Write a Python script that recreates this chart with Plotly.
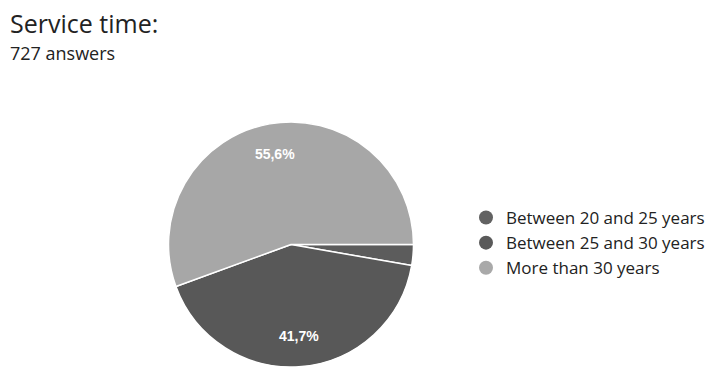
import plotly.graph_objects as go

categories = ["Between 20 and 25 years", "Between 25 and 30 years", "More than 30 years"]
counts = [20, 303, 404]
slice_labels = ["", "41,7%", "55,6%"]
colors = ["#5c5c5c", "#585858", "#a7a7a7"]
legend_colors = ["#626262", "#5a5a5a", "#a9a9a9"]
title_text = "Service time:"
subtitle_text = "727 answers"

W, H = 709, 367
cx, cy, r = 291, 245, 123
dom = dict(x=[(cx - r) / W, (cx + r) / W], y=[max(0, (H - cy - r) / H), (H - cy + r) / H])

fig = go.Figure()
# filled pie
fig.add_trace(go.Pie(
    labels=categories, values=counts,
    textinfo="none", sort=False, direction="clockwise", rotation=90,
    marker=dict(colors=colors, line=dict(color="white", width=1.5)),
    showlegend=False, hoverinfo="label+percent", domain=dom,
))
# transparent ring carrying the percentage labels further out
fig.add_trace(go.Pie(
    labels=categories, values=counts, text=slice_labels, hole=0.5,
    textinfo="text", textposition="inside", sort=False, direction="clockwise", rotation=90,
    marker=dict(colors=["rgba(0,0,0,0)"] * 3, line=dict(width=0)),
    textfont=dict(family="Liberation Sans, Arial", size=14, color="white", weight="bold"),
    insidetextorientation="horizontal",
    showlegend=False, hoverinfo="skip", domain=dom,
))
for name, col in zip(categories, legend_colors):
    fig.add_trace(go.Scatter(x=[None], y=[None], mode="markers", name=name,
                             marker=dict(symbol="circle", size=14, color=col)))

fig.update_layout(
    width=W, height=H, paper_bgcolor="white", plot_bgcolor="white",
    margin=dict(l=0, r=0, t=0, b=0, autoexpand=False),
    xaxis=dict(visible=False), yaxis=dict(visible=False),
    legend=dict(x=466 / W, y=1 - 200 / H, xanchor="left", yanchor="top",
                font=dict(family="Open Sans", size=17, color="#222222"),
                itemwidth=30, tracegroupgap=0, bgcolor="rgba(0,0,0,0)"),
    annotations=[
        dict(text=title_text, x=8 / W, y=1 - 4 / H, xref="paper", yref="paper",
             xanchor="left", yanchor="top", showarrow=False,
             font=dict(family="Open Sans", size=25, color="#222222")),
        dict(text=subtitle_text, x=8 / W, y=1 - 39 / H, xref="paper", yref="paper",
             xanchor="left", yanchor="top", showarrow=False,
             font=dict(family="Open Sans", size=18, color="#222222")),
    ],
)
fig.write_html("out.html", config={"displayModeBar": False},
               post_script="document.body.style.margin='0';")
